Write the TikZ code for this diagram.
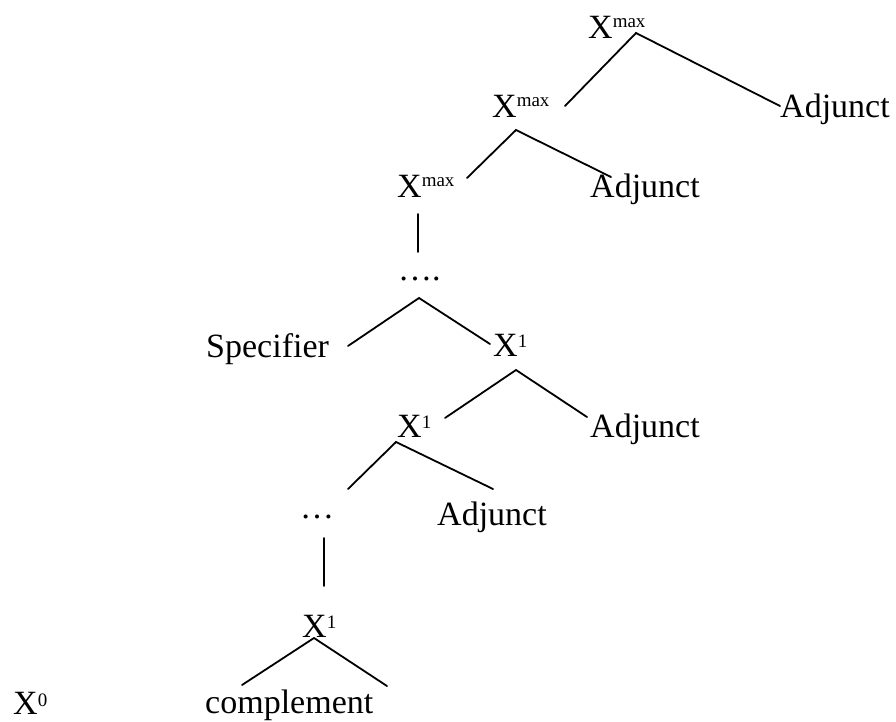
\documentclass[tikz,border=0pt]{standalone}
\usepackage{fontspec}
\setmainfont{Liberation Serif}
\newcommand\xsup[2]{\raisebox{#1pt}{\fontsize{19}{19}\selectfont #2}}
\begin{document}
\begin{tikzpicture}[x=1pt,y=-1pt,
  lbl/.style={anchor=base west, inner sep=0pt, font=\fontsize{34}{40}\selectfont},
  branch/.style={line width=1.8pt, line cap=round}]
\useasboundingbox[fill=white] (0,0) rectangle (896,722);

% labels of the tree
\node[lbl] (xmA)  at (588,39)  {X\xsup{11}{max}};
\node[lbl] (adjA) at (780,118) {Adjunct};
\node[lbl] (xmB)  at (492,118) {X\xsup{11}{max}};
\node[lbl] (adjB) at (590,197) {Adjunct};
\node[lbl] (xmC)  at (397,197) {X\xsup{11}{max}};
\node[lbl] (dotsA) at (398,280) {….};
\node[lbl] (spec) at (206,357) {Specifier};
\node[lbl] (xbA)  at (493,356) {X\xsup{9}{1}};
\node[lbl] (adjC) at (590,437) {Adjunct};
\node[lbl] (xbB)  at (397,437) {X\xsup{9}{1}};
\node[lbl] (adjD) at (437,525) {Adjunct};
\node[lbl] (dotsB) at (300,518) {…};
\node[lbl] (xbC)  at (302,637) {X\xsup{9}{1}};
\node[lbl] (comp) at (205,713) {complement};
\node[lbl] (xz)   at (13,714)  {X\xsup{8}{0}};

% branch end points
\coordinate (pA)  at (636,33);
\coordinate (pAl) at (565,106);
\coordinate (pAr) at (780,106);
\coordinate (pB)  at (516,130);
\coordinate (pBl) at (467,178);
\coordinate (pBr) at (611,177);
\coordinate (pC)  at (418,214);
\coordinate (pCd) at (418,252);
\coordinate (pD)  at (419,298);
\coordinate (pDl) at (348,346);
\coordinate (pDr) at (490,344);
\coordinate (pE)  at (516,370);
\coordinate (pEl) at (445,418);
\coordinate (pEr) at (587,417);
\coordinate (pF)  at (396,442);
\coordinate (pFl) at (348,489);
\coordinate (pFr) at (493,489);
\coordinate (pG)  at (324,538);
\coordinate (pGd) at (324,586);
\coordinate (pH)  at (314,638);
\coordinate (pHl) at (242,685);
\coordinate (pHr) at (387,686);

\draw[branch] (pAl) -- (pA) -- (pAr);
\draw[branch] (pBl) -- (pB) -- (pBr);
\draw[branch] (pC) -- (pCd);
\draw[branch] (pDl) -- (pD) -- (pDr);
\draw[branch] (pEl) -- (pE) -- (pEr);
\draw[branch] (pFl) -- (pF) -- (pFr);
\draw[branch] (pG) -- (pGd);
\draw[branch] (pHl) -- (pH) -- (pHr);
\end{tikzpicture}
\end{document}
